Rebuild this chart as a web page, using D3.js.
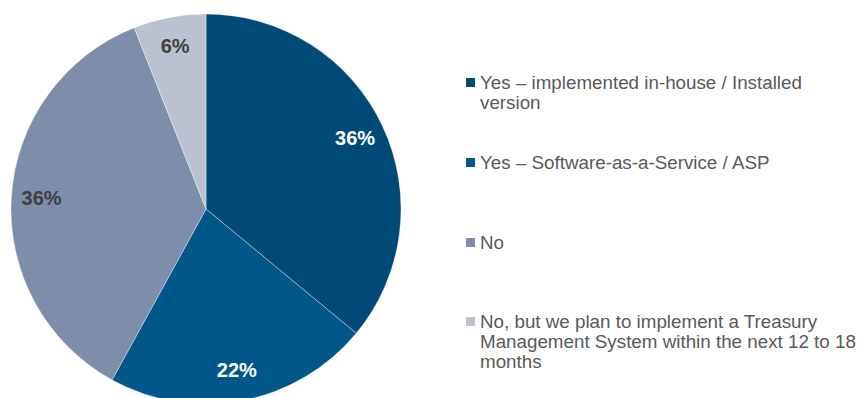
<!DOCTYPE html>
<html>
<head>
<meta charset="utf-8">
<script src="https://cdn.jsdelivr.net/npm/d3@7/dist/d3.min.js"></script>
<style>
  html, body { margin: 0; padding: 0; background: #ffffff; }
  svg { display: block; }
</style>
</head>
<body>
<svg id="chart" width="861" height="398"></svg>
<script>
// Survey answers: does the company use a Treasury Management System?
const categories = [
  "Yes \u2013 implemented in-house / Installed version",
  "Yes \u2013 Software-as-a-Service / ASP",
  "No",
  "No, but we plan to implement a Treasury Management System within the next 12 to 18 months"
];
const shares = [36, 22, 36, 6];
const valueLabels = ["36%", "22%", "36%", "6%"];
// Legend text, already broken into lines
const legendLines = [
  ["Yes \u2013 implemented in-house / Installed", "version"],
  ["Yes \u2013 Software-as-a-Service / ASP"],
  ["No"],
  ["No, but we plan to implement a Treasury", "Management System within the next 12 to 18", "months"]
];

const sliceColors = ["#004a78", "#00578a", "#7d8daa", "#bbc2cf"];
const labelColors = ["#ffffff", "#ffffff", "#404040", "#404040"];

const svg = d3.select("#chart");
const cx = 206, cy = 209, radius = 195;

const data = categories.map((c, i) => ({ name: c, value: shares[i], label: valueLabels[i], i }));

const pie = d3.pie().value(d => d.value).sort(null);
const arc = d3.arc().innerRadius(0).outerRadius(radius);
const labelArc = d3.arc().innerRadius(radius * 0.845).outerRadius(radius * 0.845);

const color = d3.scaleOrdinal().domain(categories).range(sliceColors);

const g = svg.append("g").attr("transform", `translate(${cx},${cy})`);
const arcs = pie(data);

g.selectAll("path.slice")
  .data(arcs)
  .join("path")
  .attr("class", "slice")
  .attr("d", arc)
  .attr("fill", d => color(d.data.name))
  .attr("stroke", "rgba(255,255,255,0.45)")
  .attr("stroke-width", 0.8);

g.selectAll("text.value")
  .data(arcs)
  .join("text")
  .attr("class", "value")
  .attr("transform", d => `translate(${labelArc.centroid(d)})`)
  .attr("text-anchor", "middle")
  .attr("dy", "0.3em")
  .attr("font-family", "'Liberation Sans', Arial, sans-serif")
  .attr("font-weight", "bold")
  .attr("font-size", 20)
  .attr("fill", d => labelColors[d.data.i])
  .text(d => d.data.label);

// Legend
const legendX = 466;
const legendBaselines = [89, 169, 249, 328];
const lineHeight = 20;

const legend = svg.append("g");
const items = legend.selectAll("g.item")
  .data(data)
  .join("g")
  .attr("class", "item")
  .attr("transform", (d, i) => `translate(${legendX},${legendBaselines[i]})`);

items.append("rect")
  .attr("x", 0)
  .attr("y", -11)
  .attr("width", 9)
  .attr("height", 9)
  .attr("fill", d => color(d.name));

items.append("text")
  .attr("font-family", "'Liberation Sans', Arial, sans-serif")
  .attr("font-size", 18.8)
  .attr("fill", "#595959")
  .selectAll("tspan")
  .data(d => legendLines[d.i])
  .join("tspan")
  .attr("x", 14)
  .attr("y", (d, j) => j * lineHeight)
  .text(d => d);
</script>
</body>
</html>
